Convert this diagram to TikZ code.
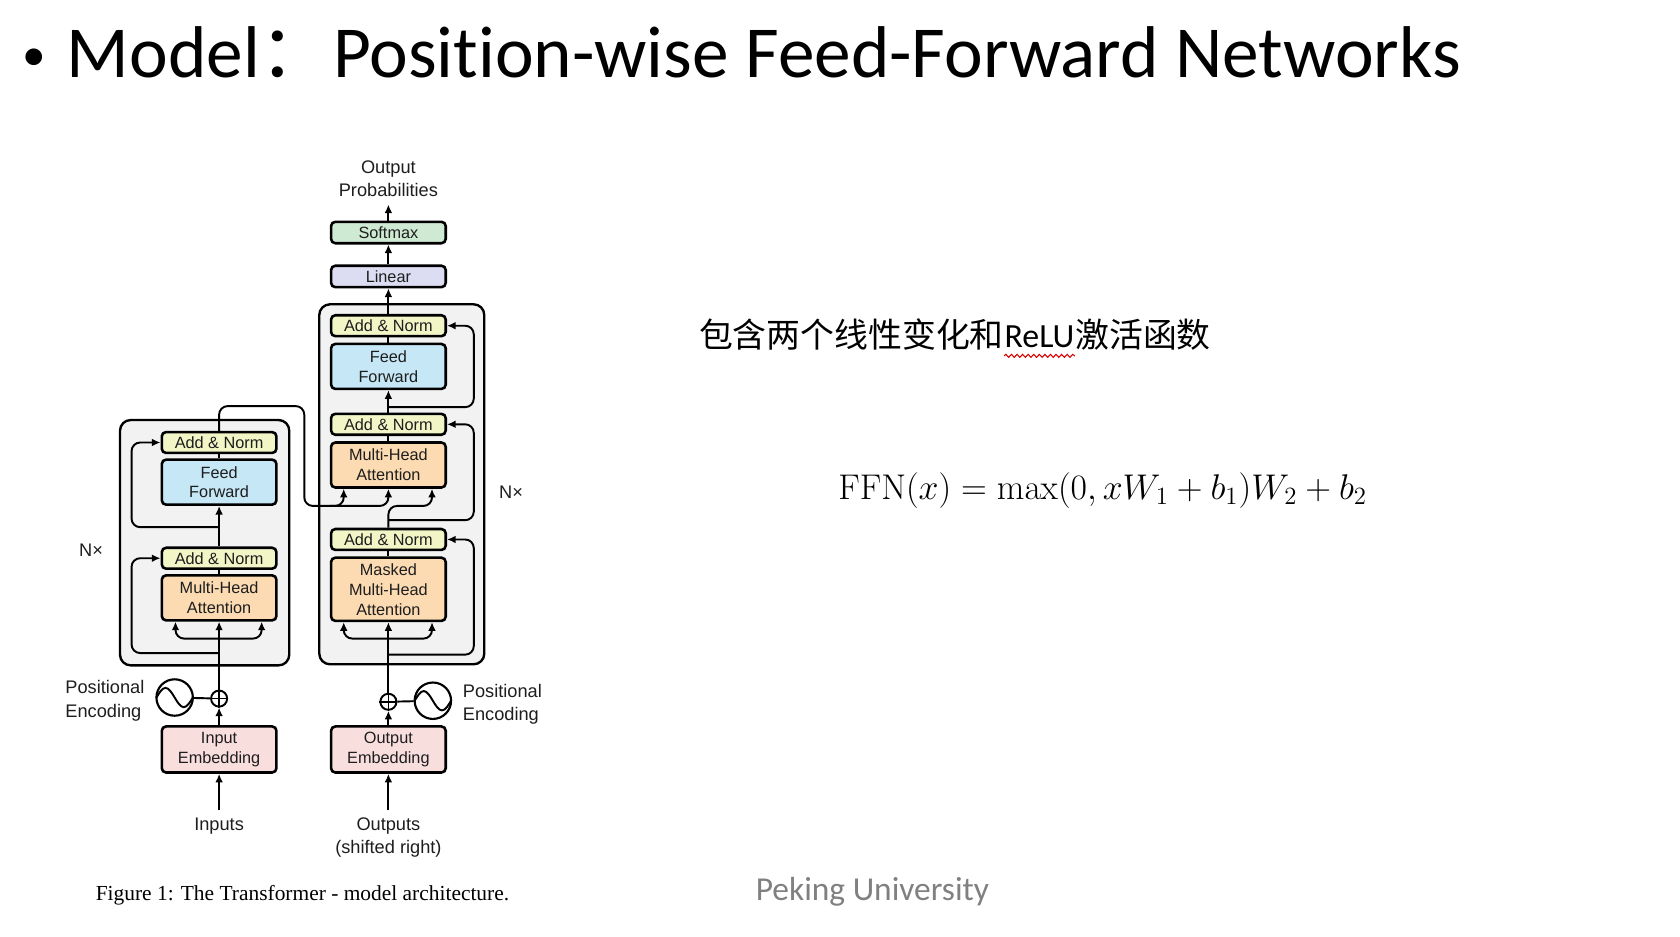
\documentclass[tikz,border=0pt]{standalone}
\usepackage[no-math]{fontspec}
\setmainfont{Liberation Sans}
\newfontfamily\slidefont[Ligatures=CommonOff]{Carlito}
\newfontfamily\cjkfont{Noto Sans CJK SC}
\newfontfamily\capfont{Liberation Serif}
\usetikzlibrary{arrows.meta,calc,positioning,decorations.pathmorphing}

\definecolor{anyellow}{RGB}{242,246,198}
\definecolor{ffblue}{RGB}{197,231,246}
\definecolor{mhaorange}{RGB}{252,219,178}
\definecolor{embpink}{RGB}{249,222,222}
\definecolor{linpurple}{RGB}{220,221,243}
\definecolor{smgreen}{RGB}{206,234,210}
\definecolor{stackgray}{RGB}{242,242,242}
\definecolor{textgray}{RGB}{30,30,30}

\newcommand\boxfont{\fontsize{7.6}{9.3}\selectfont}
\newcommand\lblfont{\fontsize{8.5}{10.8}\selectfont}

\begin{document}
\begin{tikzpicture}[x=0.5pt, y=-0.5pt,
    blk/.style={draw, line width=1.2pt, rounded corners=2pt, minimum width=53.5pt, inner sep=0pt, align=center, font=\boxfont, text=textgray},
    an/.style={blk, fill=anyellow, minimum height=9.75pt},
    ff/.style={blk, fill=ffblue, minimum height=21pt},
    mha/.style={blk, fill=mhaorange, minimum height=21pt},
    emb/.style={blk, fill=embpink, minimum height=21.5pt},
    stack/.style={draw, line width=1.1pt, fill=stackgray, rounded corners=5pt},
    lbl/.style={font=\lblfont, text=textgray},
    sine/.style={draw, circle, line width=1pt, minimum size=17pt, inner sep=0pt},
    plus/.style={draw, circle, line width=0.9pt, minimum size=7.5pt, inner sep=0pt},
    arr/.style={-{Latex[length=4pt,width=3.6pt]}, line width=0.9pt},
    ln/.style={line width=0.9pt}]
  \useasboundingbox (0,0) rectangle (1568,874);
  \fill[white] (0,0) rectangle (1568,874);

  % slide texts
  \node[anchor=base, inner sep=0pt] (bullet) at (32,66) {\slidefont\fontsize{22}{24}\selectfont •};
  \node[anchor=base west, inner sep=0pt] (title) at (62,72) {\slidefont\fontsize{34.2}{40}\selectfont Model{\cjkfont ：}Position-wise Feed-Forward Networks};
  \node[anchor=west, inner sep=0pt] (cn1) at (652,312) {\cjkfont\fontsize{15.8}{18}\selectfont 包含两个线性变化和};
  \node[anchor=base west, inner sep=0pt] (relu) at (cn1.base east) {\slidefont\fontsize{15.8}{18}\selectfont ReLU};
  \node[anchor=base west, inner sep=0pt] (cn2) at (relu.base east) {\cjkfont\fontsize{15.8}{18}\selectfont 激活函数};
  \draw[red!85!black, line width=0.5pt, decorate, decoration={snake, amplitude=0.7pt, segment length=2.6pt}]
    ($(relu.base west)+(0,8)$) -- ($(relu.base east)+(0,8)$);
  \node[anchor=base west, inner sep=0pt, scale=0.965] (ffn) at (782,466) {\fontsize{17}{20}\selectfont $\mathrm{FFN}(x)=\max(0,xW_1+b_1)W_2+b_2$};
  \node[anchor=base west, inner sep=0pt, text=black!50] (pku) at (705,840) {\slidefont\fontsize{15.6}{18}\selectfont Peking University};
  \node[anchor=base west, inner sep=0pt] (caption) at (89,840) {\capfont\fontsize{10}{12}\selectfont Figure 1: The Transformer - model architecture.};

  % stacks
  \draw[stack] (112,392) rectangle (270,621);
  \draw[stack] (298,284) rectangle (452,620);

  % encoder
  \node[an] (ean2) at (204.5,413) {Add \& Norm};
  \node[ff] (eff) at (204.5,450) {Feed\\Forward};
  \node[an] (ean1) at (204.5,521) {Add \& Norm};
  \node[mha] (emha) at (204.5,558) {Multi-Head\\Attention};
  \node[emb] (inemb) at (204.5,699.5) {Input\\Embedding};
  \node[plus] (ep) at (204.5,652) {};
  \node[sine] (es) at (163,651) {};
  \node[lbl, anchor=west, align=left] (epos) at (54,654) {Positional\\Encoding};
  \node[lbl] (inputs) at (204.5,771) {Inputs};
  \node[lbl] (enx) at (85,514) {N×};

  % decoder
  \node[an] (dan3) at (362.5,304) {Add \& Norm};
  \node[ff] (dff) at (362.5,342) {Feed\\Forward};
  \node[an] (dan2) at (362.5,396) {Add \& Norm};
  \node[mha] (dmha2) at (362.5,434) {Multi-Head\\Attention};
  \node[an] (dan1) at (362.5,503.5) {Add \& Norm};
  \node[mha, minimum height=29.5pt] (dmha1) at (362.5,550) {Masked\\Multi-Head\\Attention};
  \node[emb] (outemb) at (362.5,699.5) {Output\\Embedding};
  \node[plus] (dp) at (362.5,655) {};
  \node[sine] (ds) at (404,654) {};
  \node[lbl, anchor=west, align=left] (dpos) at (425,657) {Positional\\Encoding};
  \node[lbl, align=center] (outputs) at (362.5,782) {Outputs\\(shifted right)};
  \node[lbl] (dnx) at (477,459) {N×};
  \node[blk, fill=linpurple, minimum height=10pt] (linear) at (362.5,258) {Linear};
  \node[blk, fill=smgreen, minimum height=10pt] (softmax) at (362.5,217) {Softmax};
  \node[lbl, align=center] (outprob) at (362.5,167) {Output\\Probabilities};

  % sine waves and plus signs
  \foreach \s in {es,ds}
    \draw[line width=0.9pt] ($(\s.center)+(-17,0)$) sin ($(\s.center)+(-8.5,-9)$) cos (\s.center) sin ($(\s.center)+(8.5,9)$) cos ($(\s.center)+(17,0)$);
  \foreach \p in {ep,dp}
    \draw[line width=0.8pt] (\p.north) -- (\p.south) (\p.west) -- (\p.east);

  \coordinate (esplit) at (204.5,596);
  \coordinate (eres1) at (204.5,609.5);
  \coordinate (eres2) at (204.5,492);
  \coordinate (ebend) at (284,379);
  \coordinate (dsplit) at (362.5,596);
  \coordinate (dres1) at (362.5,611);
  \coordinate (dres2) at (362.5,485.5);
  \coordinate (dres3) at (362.5,380);

  % encoder connections
  \draw[arr] (inputs) -- (inemb);
  \draw[arr] (inemb) -- (ep);
  \draw[ln] (es) -- (ep);
  \draw[arr] (ep) -- (emha);
  \draw[arr, rounded corners=4pt] (esplit) -| ($(emha.south west)+(14,0)$);
  \draw[arr, rounded corners=4pt] (esplit) -| ($(emha.south east)+(-15,0)$);
  \draw[ln] (emha) -- (ean1);
  \draw[arr, rounded corners=4pt] (eres1) -| ($(ean1.west)+(-27,0)$) -- (ean1.west);
  \draw[arr] (ean1) -- (eff);
  \draw[ln] (eff) -- (ean2);
  \draw[arr, rounded corners=4pt] (eres2) -| ($(ean2.west)+(-27,0)$) -- (ean2.west);
  \draw[arr, rounded corners=4pt] (ean2.north) |- (ebend) |- ($(dmha2.south west)+(13,16)$) -- ($(dmha2.south west)+(13,0)$);
  \draw[arr, rounded corners=4pt] ($(dmha2.south west)+(0,16)$) -| (dmha2.south);

  % decoder connections
  \draw[arr] (outputs) -- (outemb);
  \draw[arr] (outemb) -- (dp);
  \draw[ln] (ds) -- (dp);
  \draw[arr] (dp) -- (dmha1);
  \draw[arr, rounded corners=4pt] (dsplit) -| ($(dmha1.south west)+(13,0)$);
  \draw[arr, rounded corners=4pt] (dsplit) -| ($(dmha1.south east)+(-14,0)$);
  \draw[ln] (dmha1) -- (dan1);
  \draw[arr, rounded corners=4pt] (dres1) -| ($(dan1.east)+(25,0)$) -- (dan1.east);
  \draw[arr, rounded corners=4pt] (dan1.north) |- ($(dmha2.south east)+(-14,16)$) -- ($(dmha2.south east)+(-14,0)$);
  \draw[arr, rounded corners=4pt] (dres2) -| ($(dan2.east)+(25,0)$) -- (dan2.east);
  \draw[ln] (dmha2) -- (dan2);
  \draw[arr] (dan2) -- (dff);
  \draw[ln] (dff) -- (dan3);
  \draw[arr, rounded corners=4pt] (dres3) -| ($(dan3.east)+(25,0)$) -- (dan3.east);
  \draw[arr] (dan3) -- (linear);
  \draw[arr] (linear) -- (softmax);
  \draw[arr] (softmax) -- (outprob);
\end{tikzpicture}
\end{document}
